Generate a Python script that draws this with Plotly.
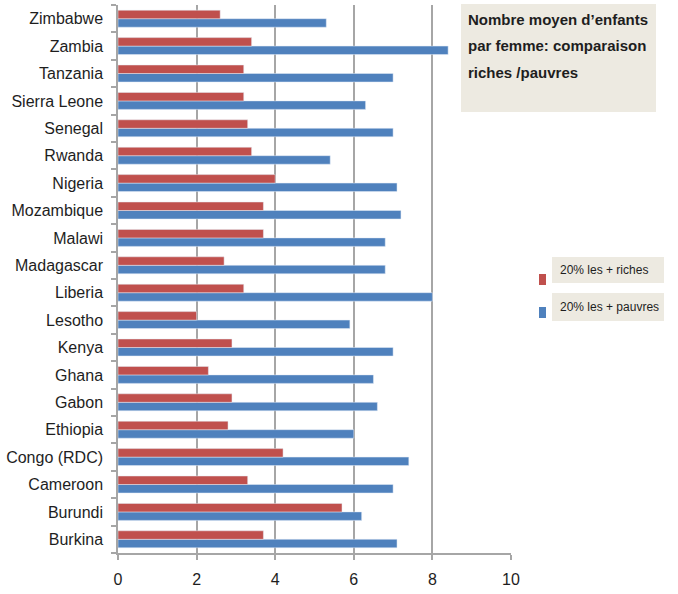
import plotly.graph_objects as go

countries = ["Burkina", "Burundi", "Cameroon", "Congo (RDC)", "Ethiopia", "Gabon", "Ghana",
             "Kenya", "Lesotho", "Liberia", "Madagascar", "Malawi", "Mozambique", "Nigeria",
             "Rwanda", "Senegal", "Sierra Leone", "Tanzania", "Zambia", "Zimbabwe"]
riches = [3.7, 5.7, 3.3, 4.2, 2.8, 2.9, 2.3, 2.9, 2.0, 3.2, 2.7, 3.7, 3.7, 4.0,
          3.4, 3.3, 3.2, 3.2, 3.4, 2.6]
pauvres = [7.1, 6.2, 7.0, 7.4, 6.0, 6.6, 6.5, 7.0, 5.9, 8.0, 6.8, 6.8, 7.2, 7.1,
           5.4, 7.0, 6.3, 7.0, 8.4, 5.3]
x_ticks = [0, 2, 4, 6, 8, 10]
title_lines = ["Nombre moyen d\u2019enfants", "par femme: comparaison", "riches /pauvres"]
legend_labels = ["20% les + riches", "20% les + pauvres"]

RED = "#C0504D"
BLUE = "#4F81BD"
BEIGE = "#EDEAE1"
GRID = "#A6A6A6"

W, H = 678, 594
L, R, T, B = 118, 511, 5, 553


def px(x):
    return (x - L) / (R - L)


def py(y):
    return (B - y) / (B - T)


fig = go.Figure()
fig.add_trace(go.Bar(y=countries, x=pauvres, orientation="h", marker_color=BLUE,
                     name=legend_labels[1], showlegend=False))
fig.add_trace(go.Bar(y=countries, x=riches, orientation="h", marker_color=RED,
                     name=legend_labels[0], showlegend=False))

shapes = []
annotations = []
# title box
shapes.append(dict(type="rect", xref="paper", yref="paper", x0=px(461), x1=px(656),
                   y0=py(112), y1=py(4), fillcolor=BEIGE, line_width=0, layer="above"))
for i, (t, yc) in enumerate(zip(title_lines, [20, 46, 72])):
    annotations.append(dict(text="<b>" + t + "</b>", xref="paper", yref="paper",
                            x=px(466), y=py(yc), xanchor="left", yanchor="middle",
                            showarrow=False,
                            font=dict(family="Liberation Sans", size=15, color="#1E1E1E")))
# legend
for lab, col, (ty0, ty1), (sy0, sy1) in [
    (legend_labels[0], RED, (257, 283), (274, 285)),
    (legend_labels[1], BLUE, (293, 321), (307, 318)),
]:
    shapes.append(dict(type="rect", xref="paper", yref="paper", x0=px(552), x1=px(664),
                       y0=py(ty1), y1=py(ty0), fillcolor=BEIGE, line_width=0, layer="above"))
    shapes.append(dict(type="rect", xref="paper", yref="paper", x0=px(539), x1=px(546),
                       y0=py(sy1), y1=py(sy0), fillcolor=col, line_width=0, layer="above"))
    annotations.append(dict(text=lab, xref="paper", yref="paper", x=px(558),
                            y=py((ty0 + ty1) / 2), xanchor="left", yanchor="middle",
                            showarrow=False,
                            font=dict(family="Liberation Sans", size=12, color="#1E1E1E")))

fig.update_layout(
    width=W, height=H,
    margin=dict(l=L, r=W - R, t=T, b=H - B, autoexpand=False),
    paper_bgcolor="white", plot_bgcolor="white",
    barmode="group", bargap=0.38, bargroupgap=0,
    showlegend=False,
    shapes=shapes, annotations=annotations,
    font=dict(family="Liberation Sans", size=16, color="#1E1E1E"),
)
fig.update_xaxes(range=[0, 10], tickvals=x_ticks, showgrid=True, gridcolor=GRID, gridwidth=1.5,
                 zeroline=False, showline=True, linecolor=GRID, linewidth=1.5,
                 ticks="outside", ticklen=5, tickcolor=GRID, tickwidth=1.5,
                 ticklabelstandoff=6, tickfont=dict(size=16))
fig.update_yaxes(categoryorder="array", categoryarray=countries, showgrid=False,
                 showline=True, linecolor=GRID, linewidth=1.5,
                 ticks="outside", tickson="boundaries", ticklen=5, tickcolor=GRID, tickwidth=1.5,
                 ticklabelstandoff=10, tickfont=dict(size=16))

fig.write_html("out.html")
